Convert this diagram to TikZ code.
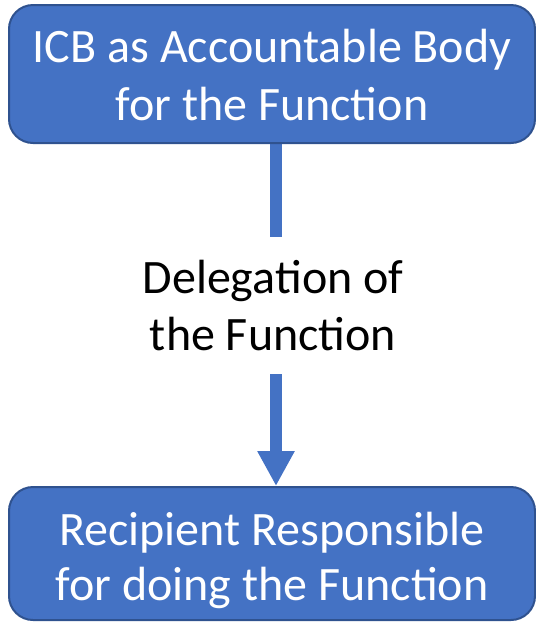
\documentclass[tikz,border=0pt]{standalone}
\usepackage{fontspec}
\setmainfont{Carlito}
\usetikzlibrary{arrows.meta,backgrounds}
\definecolor{boxfill}{HTML}{4472C4}
\definecolor{boxline}{HTML}{2F528F}
\newcommand{\lnA}[2]{\raisebox{0pt}[#1][0pt]{#2}}
\tikzset{
  px/.style={x=0.75pt,y=-0.75pt},
  bluebox/.style={draw=boxline, fill=boxfill, line width=1.5pt, rounded corners=18pt,
    minimum width=394.5pt, text=white, align=center, inner sep=0pt},
  conn/.style={draw=boxfill, line width=9pt},
}
\begin{document}
\begin{tikzpicture}[px]
\useasboundingbox (0,0) rectangle (536,622);
\node[bluebox, minimum height=103.5pt,
  font=\fontsize{36pt}{43.5pt}\selectfont] (top) at (272,74)
  {\lnA{25.5pt}{ICB as Accountable Body}\\\lnA{0pt}{for the Function}};
\node[bluebox, minimum height=99.75pt,
  font=\fontsize{36pt}{41.25pt}\selectfont] (bot) at (272,553.5)
  {\lnA{28.5pt}{Recipient Responsible}\\\lnA{0pt}{for doing the Function}};
\node[inner sep=0pt, align=center, font=\fontsize{36pt}{42.75pt}\selectfont] (mid) at (273,321.5)
  {\lnA{0pt}{Delegation of}\\\lnA{0pt}{the Function}};
\coordinate (a1) at (276,237);
\coordinate (a2) at (276,374);
\begin{scope}[on background layer]
\draw[conn] (top.south -| a1) -- (a1);
\draw[conn, -{Triangle[width=26.25pt,length=26.25pt]}] (a2) -- (a2 |- bot.north);
\end{scope}
\end{tikzpicture}
\end{document}
